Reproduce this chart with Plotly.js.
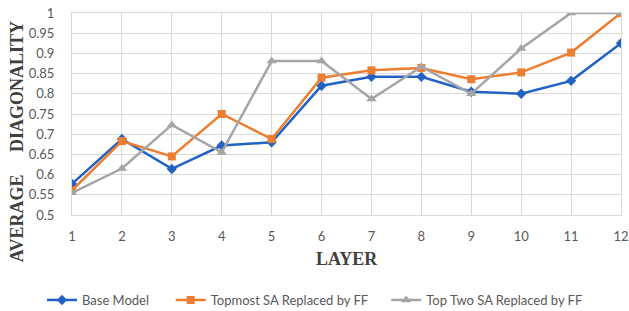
<!DOCTYPE html>
<html>
<head>
<meta charset="utf-8">
<script src="https://cdn.plot.ly/plotly-3.0.1.min.js"></script>
<style>html,body{margin:0;padding:0;background:#fff;}#chart{width:629px;height:311px;}</style>
</head>
<body>
<div id="chart"></div>
<script>
const layers = [1,2,3,4,5,6,7,8,9,10,11,12];
const baseModel = [0.577,0.688,0.614,0.672,0.680,0.820,0.842,0.842,0.805,0.800,0.832,0.925];
const topmostSA = [0.561,0.683,0.645,0.750,0.688,0.840,0.858,0.864,0.836,0.853,0.902,1.000];
const topTwoSA  = [0.555,0.615,0.723,0.655,0.881,0.881,0.787,0.867,0.800,0.912,1.000,1.000];
const seriesNames = ["Base Model","Topmost SA Replaced by FF","Top Two SA Replaced by FF"];
const yTicks = [0.5,0.55,0.6,0.65,0.7,0.75,0.8,0.85,0.9,0.95,1];
const yTickText = ["0.5","0.55","0.6","0.65","0.7","0.75","0.8","0.85","0.9","0.95","1"];

const pad5 = '\u00A0\u00A0\u00A0\u00A0\u00A0';
const pad4 = '\u00A0\u00A0\u00A0\u00A0';
const traces = [
  {x: layers, y: baseModel, name: seriesNames[0] + pad5, type:'scatter', mode:'lines+markers',
   line:{color:'#2262c4', width:2.5}, marker:{symbol:'diamond', size:8, color:'#2262c4'}},
  {x: layers, y: topmostSA, name: seriesNames[1] + pad4, type:'scatter', mode:'lines+markers',
   line:{color:'#ed7d31', width:2.5}, marker:{symbol:'square', size:8, color:'#ed7d31'}},
  {x: layers, y: topTwoSA, name: seriesNames[2], type:'scatter', mode:'lines+markers',
   line:{color:'#a5a5a5', width:2.5}, marker:{symbol:'triangle-up', size:9, color:'#a5a5a5'}}
];

const tickFont = {family:'Lato, "Noto Sans", sans-serif', size:13, color:'#595959'};
const titleFont = {family:'"Liberation Serif", "Times New Roman", serif', size:18, color:'#404040', weight:'bold'};

const layout = {
  width:629, height:311,
  margin:{l:72, r:8, t:13, b:96, autoexpand:false},
  paper_bgcolor:'#ffffff', plot_bgcolor:'#ffffff',
  showlegend:true,
  legend:{orientation:'h', xref:'container', yref:'container', x:42/629, xanchor:'left',
          y:11/311, yanchor:'middle',
          font:{family:'Lato, "Noto Sans", sans-serif', size:13, color:'#595959'}},
  xaxis:{range:[1,12], tickvals:layers, ticktext:layers.map(String), showgrid:true, gridcolor:'#d9d9d9',
         gridwidth:1, zeroline:false, showline:true, mirror:true, linecolor:'#d9d9d9', linewidth:1,
         ticks:'', ticklabelstandoff:9, ticklabeloverflow:'allow', tickfont:tickFont},
  yaxis:{range:[0.5,1], tickvals:yTicks, ticktext:yTickText, showgrid:true, gridcolor:'#d9d9d9',
         gridwidth:1, zeroline:false, showline:true, mirror:true, linecolor:'#d9d9d9', linewidth:1,
         ticks:'', ticklabelstandoff:14, ticklabeloverflow:'allow', tickfont:tickFont},
  annotations:[
    {text:'LAYER', xref:'paper', yref:'paper', x:0.5, y:-0.218, xanchor:'center', yanchor:'middle',
     showarrow:false, font:titleFont},
    {text:'AVERAGE\u00A0\u00A0\u00A0\u00A0 DIAGONALITY', xref:'paper', yref:'paper', x:-0.1, y:0.361,
     xanchor:'center', yanchor:'middle', textangle:-90, showarrow:false, font:titleFont}
  ]
};

Plotly.newPlot('chart', traces, layout, {displayModeBar:false, staticPlot:true});
</script>
</body>
</html>
